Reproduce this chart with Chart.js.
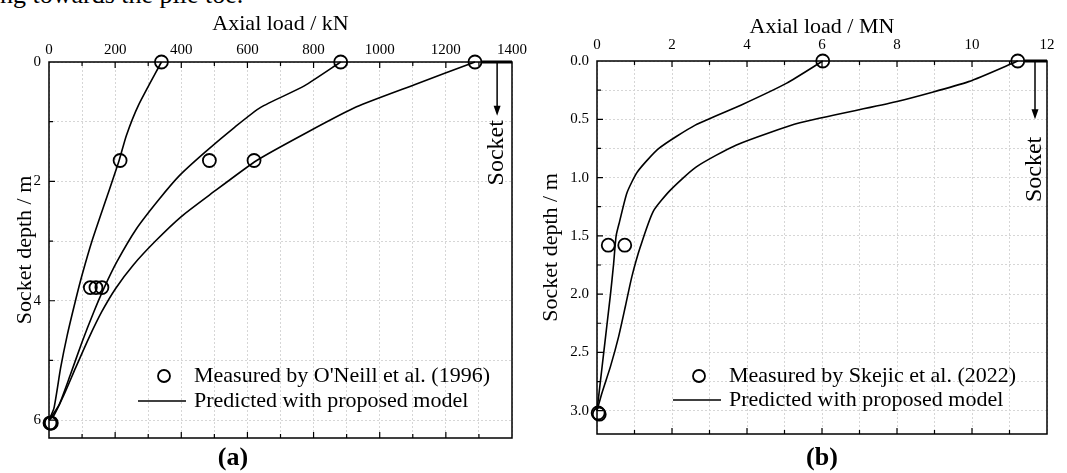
<!DOCTYPE html>
<html>
<head>
<meta charset="utf-8">
<title>Axial load vs socket depth</title>
<script src="https://cdn.jsdelivr.net/npm/chart.js@4.4.0/dist/chart.umd.min.js"></script>
<style>
  html, body { margin: 0; padding: 0; background: #fff; }
  body { position: relative; width: 1067px; height: 473px; overflow: hidden; font-family: "Liberation Serif", "Times New Roman", serif; color: #000; }
  canvas { position: absolute; top: 0; }
  #chartA { left: 0; }
  #chartB { left: 530px; }
  .cut { position: absolute; left: 0; top: -20px; font-size: 26px; line-height: 30px; white-space: nowrap; }
  .tag { position: absolute; top: 442px; font-size: 26px; font-weight: bold; line-height: 30px; width: 80px; text-align: center; }
</style>
</head>
<body>
<div class="cut">ng towards the pile toe.</div>
<canvas id="chartA" width="530" height="473"></canvas>
<canvas id="chartB" width="537" height="473"></canvas>
<div class="tag" style="left:193px">(a)</div>
<div class="tag" style="left:782px">(b)</div>
<script>
// ---- panel (a): O'Neill et al. (1996), load in kN, depth in m
const measuredLoadA  = [340, 882, 1288, 215, 485, 620, 125, 142, 160, 3, 5, 7];
const measuredDepthA = [0, 0, 0, 1.65, 1.65, 1.65, 3.78, 3.78, 3.78, 6.05, 6.05, 6.05];

const depthA1 = [0, 0.73, 1.23, 1.65, 2.23, 3.0, 3.57, 4.0, 4.58, 5.13, 5.8, 6.0];
const loadA1  = [340, 270, 234, 212, 177, 130, 100, 80, 55, 35, 15, 0];
const depthA2 = [0, 0.4, 0.76, 1.09, 1.51, 1.9, 2.3, 2.79, 3.35, 3.78, 4.18, 4.69, 5.25, 5.75, 6.0];
const loadA2  = [882, 772, 640, 562, 472, 395, 333, 265, 205, 167, 136, 100, 64, 30, 0];
const depthA3 = [0, 0.38, 0.75, 1.18, 1.65, 2.23, 2.59, 3.0, 3.4, 3.79, 4.18, 4.63, 5.13, 5.58, 5.92, 6.0];
const loadA3  = [1288, 1105, 930, 780, 628, 485, 400, 322, 255, 202, 160, 120, 80, 45, 15, 0];

// ---- panel (b): Skejic et al. (2022), load in MN, depth in m
const measuredLoadB  = [6.02, 11.22, 0.3, 0.74, 0.03, 0.06];
const measuredDepthB = [0, 0, 1.58, 1.58, 3.02, 3.03];

const depthB1 = [0, 0.19, 0.377, 0.55, 0.75, 0.95, 1.13, 1.38, 1.5, 1.75, 2.0, 2.25, 2.5, 2.75, 3.0];
const loadB1  = [6.02, 5.06, 3.85, 2.62, 1.65, 1.08, 0.8, 0.6, 0.51, 0.44, 0.36, 0.27, 0.18, 0.09, 0.0];
const depthB2 = [0, 0.177, 0.35, 0.53, 0.72, 0.91, 1.11, 1.29, 1.59, 1.85, 2.1, 2.36, 2.62, 2.85, 3.0];
const loadB2  = [11.22, 9.91, 7.97, 5.41, 3.72, 2.64, 1.95, 1.5, 1.16, 0.93, 0.76, 0.58, 0.36, 0.13, 0.0];

// socket marker (data units): line from the top load to the edge, arrow, label
const socketA = { start: 1288, x: 1355, tip: 0.9, label: 1.52 };
const socketB = { start: 11.22, x: 11.68, tip: 0.5, label: 0.93 };

const legendMeasuredA = "Measured by O'Neill et al. (1996)";
const legendMeasuredB = "Measured by Skejic et al. (2022)";
const legendPredicted = "Predicted with proposed model";

const serif = '"Liberation Serif", "Times New Roman", serif';

function pairs(xs, ys) {
    return xs.map(function(v, i) { return { x: v, y: ys[i] }; });
}

function measured(label, xs, ys) {
    return {
        label: label,
        data: pairs(xs, ys),
        showLine: false,
        pointRadius: 6.5,
        pointBorderWidth: 1.8,
        pointBackgroundColor: 'rgba(0,0,0,0)',
        pointBorderColor: '#000',
        clip: false
    };
}

function predicted(label, xs, ys) {
    return {
        label: label,
        data: pairs(xs, ys),
        showLine: true,
        borderColor: '#000',
        borderWidth: 1.6,
        pointRadius: 0,
        tension: 0.2,
        fill: false,
        clip: false
    };
}

// frame, inward ticks, socket marker and legend
const framePlugin = {
    id: 'frame',
    afterDatasetsDraw(chart) {
        const o = chart.options.plugins.frame;
        const ctx = chart.ctx, a = chart.chartArea;
        const xs = chart.scales.x, ys = chart.scales.y;
        ctx.save();
        ctx.strokeStyle = '#000';
        ctx.fillStyle = '#000';

        ctx.lineWidth = 1.2;
        ctx.beginPath();
        xs.ticks.forEach(function(t) {
            const px = xs.getPixelForValue(t.value);
            if (px <= a.left + 1 || px >= a.right - 1) return;
            const len = t.label !== '' ? 6 : 4;
            ctx.moveTo(px, a.top); ctx.lineTo(px, a.top + len);
            ctx.moveTo(px, a.bottom); ctx.lineTo(px, a.bottom - len);
        });
        ys.ticks.forEach(function(t) {
            const py = ys.getPixelForValue(t.value);
            if (py <= a.top + 1 || py >= a.bottom - 1) return;
            const len = t.label !== '' ? 6 : 4;
            ctx.moveTo(a.left, py); ctx.lineTo(a.left + len, py);
        });
        ctx.stroke();

        ctx.lineWidth = 1.5;
        ctx.strokeRect(a.left, a.top, a.right - a.left, a.bottom - a.top);

        // socket
        const s = o.socket;
        const y0 = ys.getPixelForValue(0);
        ctx.lineWidth = 3;
        ctx.beginPath();
        ctx.moveTo(xs.getPixelForValue(s.start) + 7, y0);
        ctx.lineTo(a.right, y0);
        ctx.stroke();
        const sx = xs.getPixelForValue(s.x), tip = ys.getPixelForValue(s.tip);
        ctx.lineWidth = 1.5;
        ctx.beginPath();
        ctx.moveTo(sx, y0); ctx.lineTo(sx, tip - 8);
        ctx.stroke();
        ctx.beginPath();
        ctx.moveTo(sx - 3.5, tip - 10); ctx.lineTo(sx + 3.5, tip - 10); ctx.lineTo(sx, tip);
        ctx.closePath(); ctx.fill();
        ctx.save();
        ctx.translate(sx, ys.getPixelForValue(s.label));
        ctx.rotate(-Math.PI / 2);
        ctx.font = '24px ' + serif;
        ctx.textAlign = 'center';
        ctx.textBaseline = 'middle';
        ctx.fillText('Socket', 0, 0);
        ctx.restore();

        // legend
        const ds = chart.data.datasets;
        const r1 = a.bottom - o.legendRows[0], r2 = a.bottom - o.legendRows[1];
        ctx.font = '22px ' + serif;
        ctx.textAlign = 'left';
        ctx.textBaseline = 'middle';
        ctx.lineWidth = 1.8;
        ctx.beginPath();
        ctx.arc(a.right - 348, r1, 6, 0, 2 * Math.PI);
        ctx.stroke();
        ctx.fillText(ds[0].label, a.right - 318, r1);
        ctx.lineWidth = 1.6;
        ctx.beginPath();
        ctx.moveTo(a.right - 374, r2); ctx.lineTo(a.right - 326, r2);
        ctx.stroke();
        ctx.fillText(ds[1].label, a.right - 318, r2);
        ctx.restore();
    }
};

function makeOptions(cfg) {
    return {
        responsive: false,
        animation: false,
        layout: { padding: cfg.padding },
        plugins: {
            legend: { display: false },
            tooltip: { enabled: false },
            frame: { socket: cfg.socket, legendRows: cfg.legendRows }
        },
        scales: {
            x: {
                type: 'linear',
                position: 'top',
                min: 0,
                max: cfg.xMax,
                afterFit: function(s) { s.height = cfg.top; },
                ticks: {
                    stepSize: cfg.xStep,
                    includeBounds: false,
                    autoSkip: false,
                    maxRotation: 0,
                    color: '#000',
                    padding: cfg.xPad,
                    font: { family: serif, size: 15 },
                    callback: cfg.xLabel
                },
                grid: { color: '#d6d6d6', lineWidth: 1, drawTicks: false },
                border: { display: false, dash: [2, 2] },
                title: {
                    display: true,
                    text: cfg.xTitle,
                    color: '#000',
                    font: { family: serif, size: 22 },
                    padding: { top: cfg.xTitlePad, bottom: 0 }
                }
            },
            y: {
                type: 'linear',
                reverse: true,
                min: 0,
                max: cfg.yMax,
                afterFit: function(s) { s.width = cfg.left; },
                ticks: {
                    stepSize: cfg.yStep,
                    includeBounds: false,
                    autoSkip: false,
                    color: '#000',
                    padding: 8,
                    font: { family: serif, size: cfg.yFont },
                    callback: cfg.yLabel
                },
                grid: { color: '#d6d6d6', lineWidth: 1, drawTicks: false },
                border: { display: false, dash: [2, 2] },
                title: {
                    display: true,
                    text: 'Socket depth / m',
                    color: '#000',
                    font: { family: serif, size: 22 },
                    padding: { top: cfg.yTitlePad, bottom: 0 }
                }
            }
        }
    };
}

document.addEventListener('DOMContentLoaded', function() {
    new Chart(document.getElementById('chartA').getContext('2d'), {
        type: 'scatter',
        data: {
            datasets: [
                measured(legendMeasuredA, measuredLoadA, measuredDepthA),
                predicted(legendPredicted, loadA1, depthA1),
                predicted(legendPredicted, loadA2, depthA2),
                predicted(legendPredicted, loadA3, depthA3)
            ]
        },
        options: makeOptions({
            padding: { left: 0, top: 0, right: 17, bottom: 35 },
            left: 49, top: 62,
            xMax: 1400, xStep: 100, xPad: 3, xTitlePad: 11,
            xTitle: 'Axial load / kN',
            xLabel: function(v) { return v % 200 === 0 ? String(v) : ''; },
            yMax: 6.3, yStep: 1, yFont: 15, yTitlePad: 12,
            yLabel: function(v) { return v % 2 === 0 ? String(v) : ''; },
            socket: socketA,
            legendRows: [62, 37]
        }),
        plugins: [framePlugin]
    });

    new Chart(document.getElementById('chartB').getContext('2d'), {
        type: 'scatter',
        data: {
            datasets: [
                measured(legendMeasuredB, measuredLoadB, measuredDepthB),
                predicted(legendPredicted, loadB1, depthB1),
                predicted(legendPredicted, loadB2, depthB2)
            ]
        },
        options: makeOptions({
            padding: { left: 0, top: 0, right: 20, bottom: 39 },
            left: 67, top: 61,
            xMax: 12, xStep: 1, xPad: 7, xTitlePad: 14,
            xTitle: 'Axial load / MN',
            xLabel: function(v) { return v % 2 === 0 ? String(v) : ''; },
            yMax: 3.2, yStep: 0.25, yFont: 15, yTitlePad: 8,
            yLabel: function(v) { return Math.abs(v * 2 - Math.round(v * 2)) < 1e-6 ? v.toFixed(1) : ''; },
            socket: socketB,
            legendRows: [58, 34]
        }),
        plugins: [framePlugin]
    });
});
</script>
</body>
</html>
